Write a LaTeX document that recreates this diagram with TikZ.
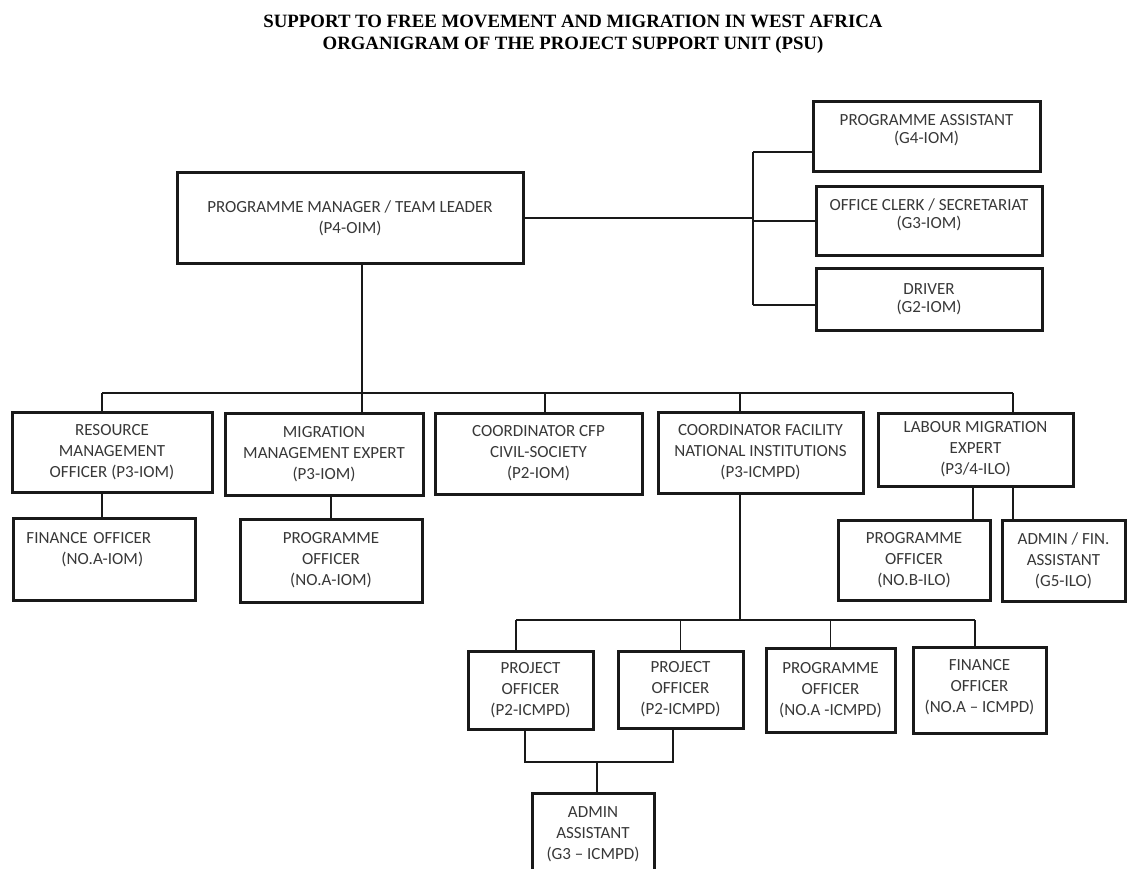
\documentclass[tikz,border=0pt]{standalone}
\usepackage{fontspec}
\setmainfont{Carlito}
\newfontfamily\titlefont{Liberation Serif}
\usepackage{tikz}
\usetikzlibrary{positioning, calc}
\definecolor{boxline}{rgb}{0.1,0.1,0.1}
\definecolor{boxtext}{rgb}{0.22,0.22,0.22}

\begin{document}
\begin{tikzpicture}[x=1pt, y=-1pt,
  every node/.style={font=\fontsize{17}{21}\selectfont, text=boxtext},
  unit/.style 2 args={draw=boxline, line width=3pt, align=center, inner sep=2pt, minimum width=#1, minimum height=#2},
  side/.style={font=\fontsize{17}{18.5}\selectfont},
  link/.style={draw=boxline, line width=1.6pt}]
\path[fill=white, use as bounding box] (0,0) rectangle (1146,868);

\node[font=\titlefont\bfseries\fontsize{18.8}{22}\selectfont, text=black, align=center] (title) at (573,34)
  {SUPPORT TO FREE MOVEMENT AND MIGRATION IN WEST AFRICA\\ORGANIGRAM OF THE PROJECT SUPPORT UNIT (PSU)};

\node[unit={346}{91}] (pm) at (350,218) {PROGRAMME MANAGER / TEAM LEADER\\(P4-OIM)};
\node[unit={227}{70}, side] (pa) at (926.5,136) {PROGRAMME ASSISTANT\\(G4-IOM)\\[-4pt]};
\node[unit={226}{69}, side] (oc) at (929,221) {OFFICE CLERK / SECRETARIAT\\(G3-IOM)\\[-4pt]};
\node[unit={226}{62}, side] (dr) at (929,299) {DRIVER\\(G2-IOM)};

\node[unit={200}{80}] (rmo) at (112,452) {RESOURCE\\MANAGEMENT\\OFFICER (P3-IOM)};
\node[unit={198}{82}] (mme) at (324,454) {MIGRATION\\MANAGEMENT EXPERT\\(P3-IOM)};
\node[unit={207}{81}] (cfp) at (538.5,453.5) {COORDINATOR CFP\\CIVIL-SOCIETY\\(P2-IOM)};
\node[unit={205}{81}] (cfn) at (760.5,452.5) {COORDINATOR FACILITY\\NATIONAL INSTITUTIONS\\(P3-ICMPD)};
\node[unit={195}{73}] (lme) at (975.5,449.5) {LABOUR MIGRATION\\EXPERT\\(P3/4-ILO)};

\node[unit={182}{82}, align=left, text width=155pt, inner xsep=13.5pt] (fo) at (104,559) {FINANCE OFFICER\\\hspace*{35pt}(NO.A-IOM)\\\mbox{}};
\node[unit={182}{83}] (po) at (331,560.5) {PROGRAMME\\OFFICER\\(NO.A-IOM)};
\node[unit={152}{80}] (pob) at (914,560) {PROGRAMME\\OFFICER\\(NO.B-ILO)};
\node[unit={123}{81}] (afa) at (1063.5,560.5) {ADMIN / FIN.\\ASSISTANT\\(G5-ILO)};

\node[unit={125}{78}] (pj1) at (530.5,690) {PROJECT\\OFFICER\\(P2-ICMPD)};
\node[unit={125}{77}] (pj2) at (680.5,689.5) {PROJECT\\OFFICER\\(P2-ICMPD)};
\node[unit={129}{84}] (poa) at (830.5,690) {PROGRAMME\\OFFICER\\(NO.A -ICMPD)};
\node[unit={133}{86}] (fia) at (979.5,690) {FINANCE\\OFFICER\\(NO.A -- ICMPD)\\[-13pt]};
\node[unit={122}{82}] (adm) at (593,834) {ADMIN\\ASSISTANT\\(G3 -- ICMPD)};

\coordinate (spine top) at (753,152);
\coordinate (spine bot) at (753,305);
\coordinate (trunk) at (362,393);
\coordinate (bus west) at (102,393);
\coordinate (bus east) at (1013,393);
\coordinate (stem) at (740,620);
\coordinate (bus2 west) at (516,620);
\coordinate (bus2 east) at (975,620);
\coordinate (join) at (597,762);

\draw[link] (pm.east) -- (pm.east -| spine top);
\draw[link] (spine top) -- (spine bot);
\draw[link] (spine top) -- (spine top -| pa.west);
\draw[link] (spine top |- oc.west) -- (oc.west);
\draw[link] (spine bot) -- (spine bot -| dr.west);

\draw[link] (trunk |- pm.south) -- (trunk |- mme.north);
\draw[link] (bus west) -- (bus east);
\draw[link] (bus west) -- (bus west |- rmo.north);
\draw[link] ([xshift=6.5pt]cfp.north) -- ([xshift=6.5pt]cfp.north |- trunk);
\draw[link] (stem |- cfn.north) -- (stem |- trunk);
\draw[link] (bus east) -- (bus east |- lme.north);

\draw[link] (bus west |- rmo.south) -- (bus west |- fo.north);
\draw[link] (po.north |- mme.south) -- (po.north);
\draw[link] ([xshift=-2.5pt]lme.south) -- ([xshift=-2.5pt]lme.south |- pob.north);
\draw[link] (bus east |- lme.south) -- (bus east |- afa.north);

\draw[link] (stem |- cfn.south) -- (stem);
\draw[link] (bus2 west) -- (bus2 east);
\draw[link] (bus2 west) -- (bus2 west |- pj1.north);
\draw[link] (pj2.north |- stem) -- (pj2.north);
\draw[link] (poa.north |- stem) -- (poa.north);
\draw[link] (bus2 east) -- (bus2 east |- fia.north);

\draw[link] ([xshift=-5.5pt]pj1.south) |- (join) -| ([xshift=-7.5pt]pj2.south);
\draw[link] (join) -- (join |- adm.north);

\end{tikzpicture}
\end{document}
